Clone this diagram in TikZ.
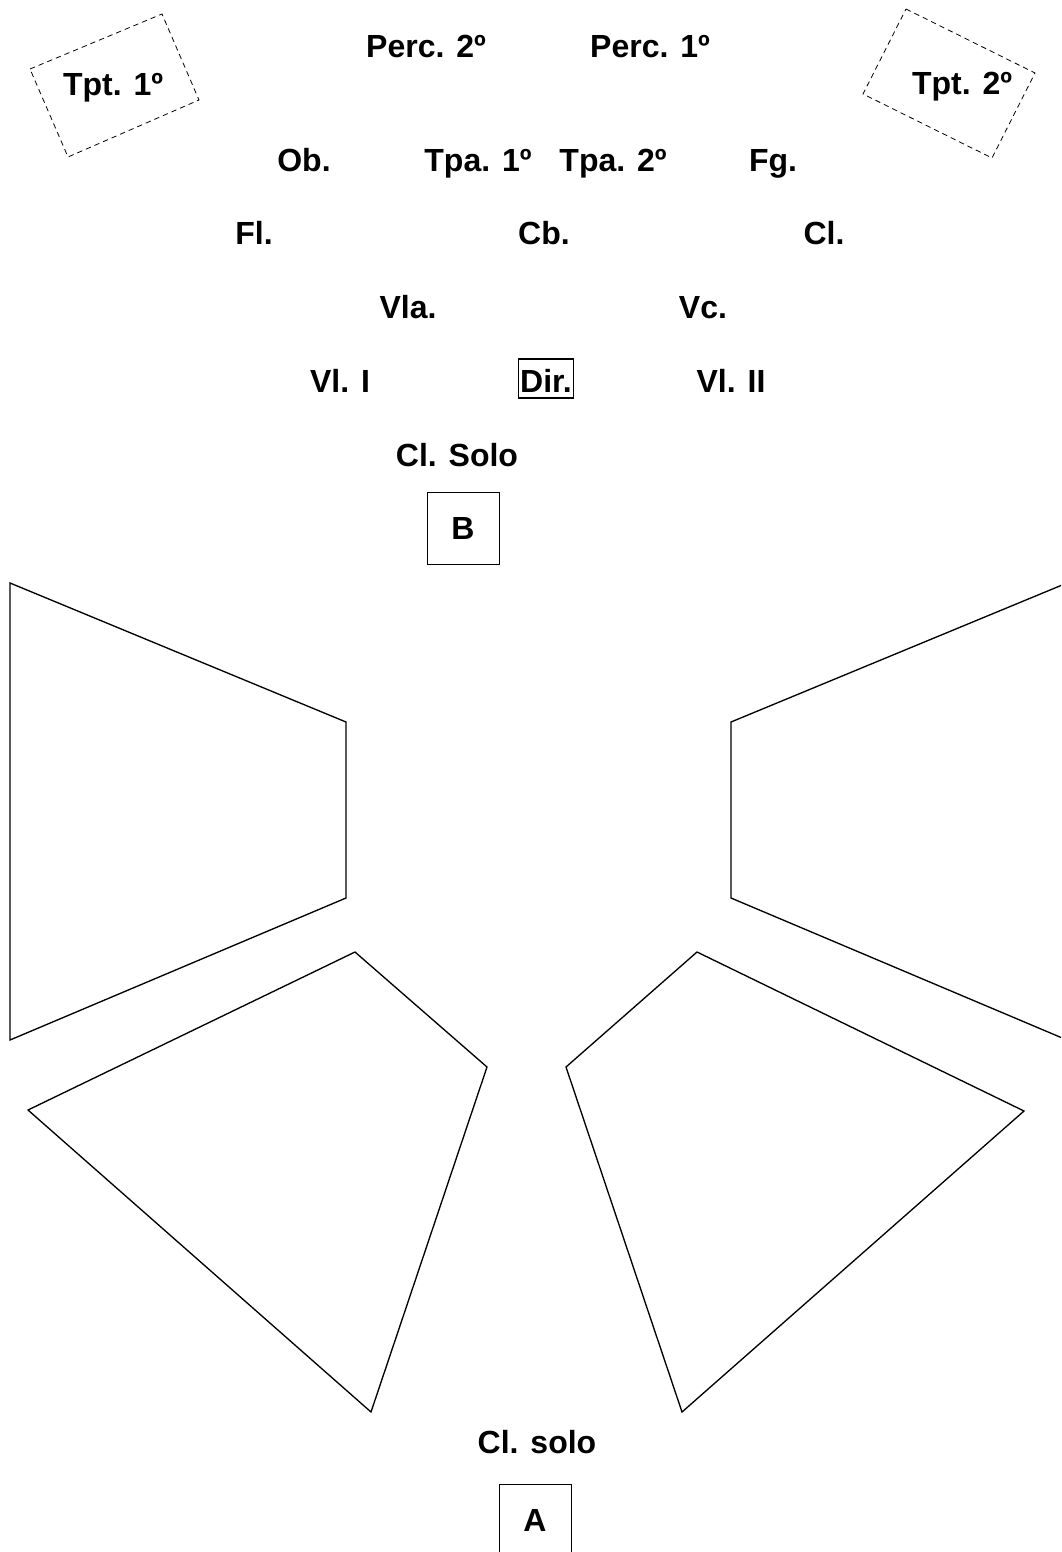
\documentclass[tikz,border=0pt]{standalone}
\usepackage{fontspec}
\setmainfont{Liberation Sans}
\usetikzlibrary{positioning}

\begin{document}
\begin{tikzpicture}[x=0.75pt,y=-0.75pt,
    seat/.style = {font=\fontsize{24}{28}\selectfont\bfseries, inner sep=0pt, anchor=base},
    desk/.style = {draw=black, line width=0.75pt, minimum size=54pt, inner sep=0pt, anchor=north,
                   font=\fontsize{24}{28}\selectfont\bfseries},
    riser/.style = {draw=black, line width=1pt, line join=miter},
    pit/.style = {draw=black, line width=0.6pt, dash pattern=on 4pt off 3pt}]
\useasboundingbox (0,0) rectangle (1061,1552);
\clip (0,0) rectangle (1061,1552);
% trumpets off stage
\draw[pit] (30,69) -- (162,14) -- (199,100) -- (68,157) -- cycle;
\draw[pit] (906,9) -- (1035,73) -- (992,158) -- (863,94) -- cycle;
% orchestra seats
\foreach \x/\y/\t/\n in {426/58/Perc. 2º/percB, 650/58/Perc. 1º/percA,
                         113/95/Tpt. 1º/tptA, 962/94/Tpt. 2º/tptB,
                         304/171/Ob./ob, 478/171/Tpa. 1º/tpaA, 613/171/Tpa. 2º/tpaB, 773/171/Fg./fg,
                         254/244/Fl./fl, 544/244/Cb./cb, 824/244/Cl./cl,
                         408/318/Vla./vla, 703/318/Vc./vc,
                         340/392/Vl. I/vlA, 731/392/Vl. II/vlB,
                         457/466/Cl. Solo/soloB, 537/1453/Cl. solo/soloA}
    \node[seat] (\n) at (\x,\y) {\t};
\node[seat, draw, line width=1.3pt, inner sep=1.2pt, text height=23.3pt, text depth=3.3pt] (dir) at (546,392) {Dir.};
\node[desk] (boxB) at (463,492) {B};
\node[desk] (boxA) at (535,1484) {A};
% audience blocks
\draw[riser] (10,583) -- (346,722) -- (346,898) -- (10,1040) -- cycle;
\draw[riser] (1067,583) -- (731,722) -- (731,898) -- (1067,1040) -- cycle;
\draw[riser] (355,952) -- (487,1067) -- (371,1412) -- (28,1110) -- cycle;
\draw[riser] (697,952) -- (566,1067) -- (682,1412) -- (1024,1111) -- cycle;
\end{tikzpicture}
\end{document}
